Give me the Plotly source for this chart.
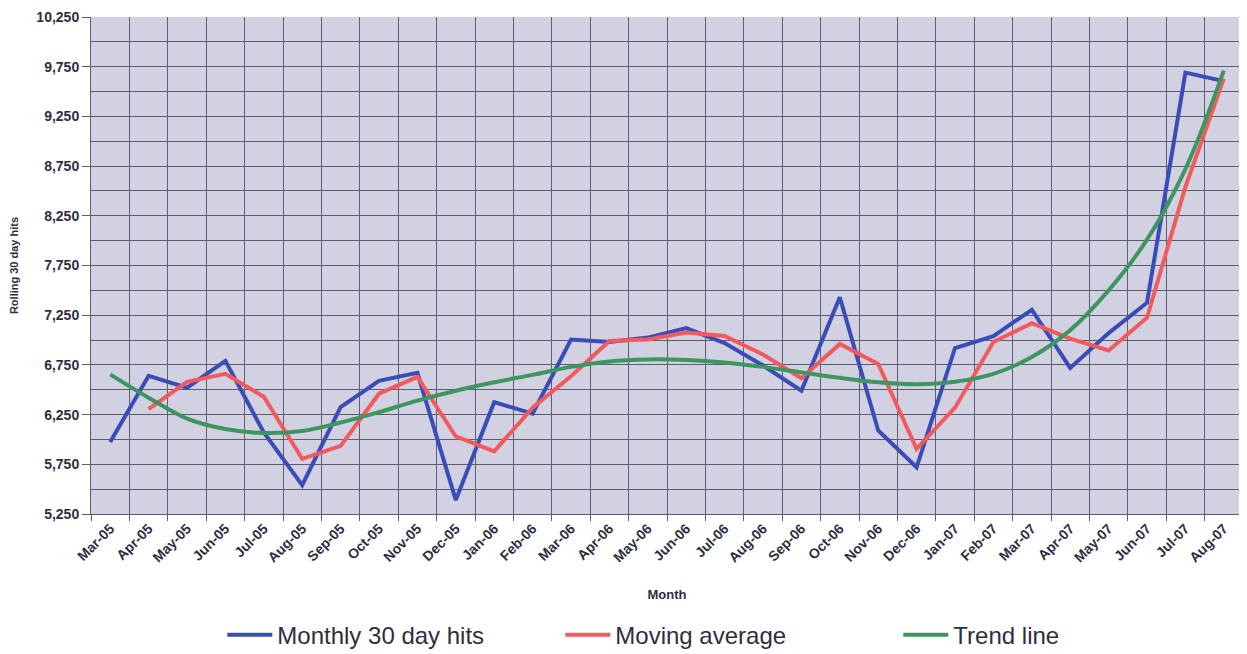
import plotly.graph_objects as go

months = ["Mar-05", "Apr-05", "May-05", "Jun-05", "Jul-05", "Aug-05", "Sep-05", "Oct-05",
          "Nov-05", "Dec-05", "Jan-06", "Feb-06", "Mar-06", "Apr-06", "May-06", "Jun-06",
          "Jul-06", "Aug-06", "Sep-06", "Oct-06", "Nov-06", "Dec-06", "Jan-07", "Feb-07",
          "Mar-07", "Apr-07", "May-07", "Jun-07", "Jul-07", "Aug-07"]

monthly_hits = [5975, 6640, 6520, 6790, 6070, 5540, 6325, 6590, 6670, 5390,
                6375, 6260, 7005, 6980, 7025, 7120, 6970, 6745, 6490, 7430,
                6090, 5720, 6920, 7040, 7305, 6720, 7070, 7375, 9690, 9605]

moving_average = [None, 6305, 6580, 6660, 6430, 5805, 5935, 6460, 6630, 6030,
                  5880, 6320, 6635, 6990, 7005, 7075, 7040, 6855, 6615, 6960,
                  6760, 5905, 6320, 6980, 7170, 7015, 6895, 7225, 8540, 9630]

trend_line = [6655, 6420, 6210, 6105, 6065, 6085, 6170, 6275, 6390, 6490,
              6575, 6650, 6730, 6785, 6805, 6800, 6775, 6730, 6675, 6620,
              6575, 6555, 6580, 6660, 6830, 7100, 7500, 8010, 8720, 9710]

y_ticks = [5250, 5750, 6250, 6750, 7250, 7750, 8250, 8750, 9250, 9750, 10250]

fig = go.Figure()
fig.add_trace(go.Scatter(x=months, y=monthly_hits, name="Monthly 30 day hits",
                         mode="lines", line=dict(color="#3a4cb8", width=4)))
fig.add_trace(go.Scatter(x=months, y=moving_average, name="Moving average",
                         mode="lines", line=dict(color="#f25a5e", width=4)))
fig.add_trace(go.Scatter(x=months, y=trend_line, name="Trend line",
                         mode="lines", line=dict(color="#3d9560", width=4, shape="spline")))

ink = "#2e2e40"
grid = "#5c5c70"

# page body has an 8px margin, so the figure is sized to fit the window from (8, 8)
fig.update_layout(
    width=1239, height=646,
    margin=dict(l=83, r=4, t=9, b=140, autoexpand=False),
    paper_bgcolor="white",
    plot_bgcolor="#d1d1e2",
    font=dict(family="Arial, Liberation Sans, sans-serif", color=ink),
    legend=dict(orientation="h", x=0.114, xanchor="left", y=-0.244, yanchor="middle",
                font=dict(family="Liberation Sans Narrow, Arial Narrow, Arial, sans-serif",
                          size=24, color=ink),
                entrywidth=278, itemwidth=45, traceorder="normal"),
    xaxis=dict(
        type="category", tickson="boundaries", tickangle=-45, automargin=False,
        showgrid=True, gridcolor=grid, gridwidth=1,
        ticks="outside", ticklen=6, tickcolor=grid,
        tickfont=dict(family="Arial, Liberation Sans, sans-serif", size=14,
                      color=ink, weight="bold"),
        showline=True, linecolor=grid, ticklabeloverflow="allow",
        title=dict(text="<b>Month</b>", font=dict(size=13, color=ink), standoff=25),
        range=[-0.5, len(months) - 0.5],
    ),
    yaxis=dict(
        range=[5250, 10250], tickvals=y_ticks, automargin=False,
        ticktext=[f"{v:,}" for v in y_ticks],
        showgrid=True, gridcolor=grid, gridwidth=1,
        minor=dict(dtick=250, tick0=5250, showgrid=True, gridcolor=grid, gridwidth=1),
        ticks="outside", ticklen=8, tickcolor=grid,
        tickfont=dict(family="Arial, Liberation Sans, sans-serif", size=14,
                      color=ink, weight="bold"),
        showline=True, linecolor=grid, zeroline=False, ticklabeloverflow="allow",
        title=dict(text="<b>Rolling 30 day hits</b>", font=dict(size=11, color=ink), standoff=18),
    ),
)

fig.write_html("out.html")
